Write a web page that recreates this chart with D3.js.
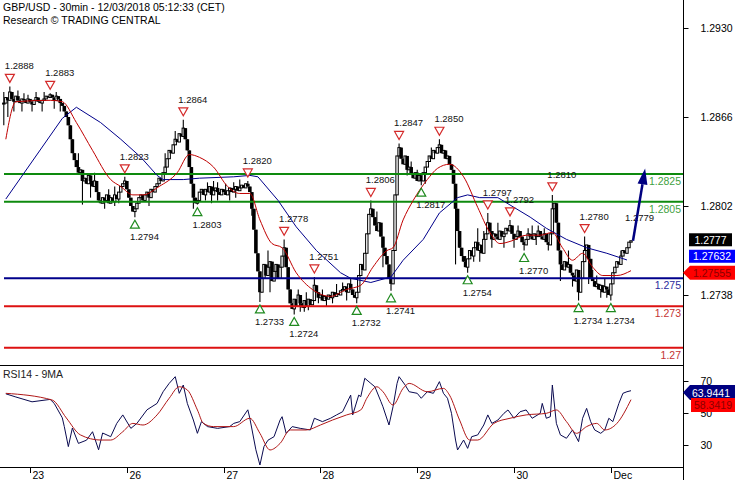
<!DOCTYPE html>
<html><head><meta charset="utf-8">
<script src="https://cdn.jsdelivr.net/npm/d3@7"></script>
<style>body{margin:0;background:#fff}svg{display:block}text{font-family:"Liberation Sans",Arial,sans-serif}</style>
</head><body><svg id="c" width="735" height="480"></svg>
<script>
const title = "GBP/USD - 30min - 12/03/2018 05:12:33 (CET)";
const subtitle = "Research © TRADING CENTRAL";
const rsiTitle = "RSI14 - 9MA";
// 30-min closes, in pips above 1.2700
const closes = [
176,180,178,184,179,177,181,178,176,179,
178,176,179,177,175,178,180,177,176,178,
179,181,180,182,180,178,181,179,176,174,
170,166,160,150,140,135,130,126,128,120,
122,118,124,120,116,120,112,106,104,108,
106,110,104,108,105,110,107,112,116,118,
120,114,108,102,98,100,104,108,110,106,
110,112,108,114,112,116,118,122,120,126,
130,136,142,140,146,150,148,154,152,158,
150,142,130,118,108,104,106,112,114,110,
114,112,116,110,113,115,112,110,114,112,
110,113,115,112,114,116,113,115,117,115,
118,116,112,100,85,68,55,40,50,60,
52,58,62,48,55,60,50,58,66,72,
58,42,32,28,35,30,38,32,29,34,
30,35,31,34,45,40,36,38,34,37,
35,38,36,40,37,39,38,41,42,44,
40,46,42,38,36,40,52,60,56,68,
82,96,100,94,88,84,90,80,72,66,
60,50,46,70,110,138,144,136,132,138,
128,130,125,122,126,120,124,120,126,130,
134,138,136,142,140,144,146,140,142,136,
138,132,128,118,100,84,72,66,62,58,
64,70,66,72,76,70,74,68,78,82,
90,84,78,82,80,78,84,80,82,86,
84,88,82,78,80,84,80,76,74,78,
82,80,78,82,80,84,80,78,82,76,
74,82,100,104,90,70,60,56,62,58,
60,54,52,48,56,40,50,62,70,74,
64,50,48,44,46,42,45,40,44,42,
38,46,54,58,62,60,66,70,68,72,76,77];
// upper / lower wick extremes [bar, pips]
const spikeHi = [[0,184],[3,188],[7,185],[10,183],[12,182],[16,184],[20,184],[23,183],[26,184],[37,140],[45,126],[52,114],[55,116],[60,123],[80,140],[85,156],[89,164],[101,119],[104,120],[106,119],[110,118],[114,119],[117,121],[121,120],[131,70],[139,78],[146,42],[150,40],[154,51],[158,42],[165,46],[168,47],[172,50],[182,106],[185,98],[196,147],[202,134],[205,128],[212,144],[216,150],[229,66],[235,86],[238,84],[240,97],[245,90],[251,92],[255,88],[260,86],[262,88],[265,88],[268,86],[272,110],[280,70],[288,80],[292,56],[294,52],[298,50],[306,70]];
const spikeLo = [[0,160],[2,166],[5,170],[9,170],[14,170],[19,170],[25,172],[28,170],[39,103],[43,108],[50,100],[55,102],[57,104],[65,94],[72,102],[94,100],[96,103],[100,106],[103,104],[106,106],[112,106],[115,108],[123,95],[127,33],[132,40],[144,24],[147,26],[149,26],[151,27],[156,32],[160,30],[163,32],[170,34],[175,32],[188,58],[192,41],[200,124],[207,117],[209,118],[224,60],[230,54],[233,62],[236,62],[242,72],[248,72],[253,72],[258,70],[264,74],[270,70],[276,48],[282,44],[285,34],[290,46],[296,36],[299,36],[301,34]];
const fastMA = [[1,150],[6,177],[23,178],[29,177],[36,162],[44,142],[53,121],[58,116],[64,110],[69,110],[77,116],[86,126],[92,139],[97,137],[104,130],[111,116],[117,111],[122,111],[127,92],[133,75],[138,72],[145,54],[153,42],[162,37],[170,42],[177,45],[183,58],[190,70],[193,72],[198,92],[203,106],[210,121],[215,129],[221,132],[228,123],[235,101],[241,83],[246,75],[252,77],[259,81],[266,81],[272,83],[277,72],[282,63],[287,68],[292,58],[297,52],[304,52],[311,55.5]];
const slowMA = [[1,107],[29,165],[36,173],[48,162],[58,150],[68,137],[76,124],[79,121],[89,121],[97,122],[114,123],[122,124],[126,123],[136,106],[145,87],[155,70],[167,54],[172,50],[182,47],[192,51],[198,63],[208,78],[216,97],[225,108],[230,110],[236,108],[245,108],[253,101],[261,94],[269,86],[279,78],[289,72],[299,68],[309,63.2]];
const highMarks = [[3,188],[23,183],[60,123],[89,164],[121,120],[139,78],[154,51],[182,106],[196,147],[216,150],[240,97],[251,92],[272,110],[288,80]];
const lowMarks = [[65,94],[96,103],[127,33],[144,24],[175,32],[192,41],[207,117],[230,54],[258,70],[285,34],[301,34]];
const lastHighLabel = [310.5,79];
const target = [318,129];
const levels = [[1.2825,"1.2825","#0e8a0e","#3f9f3f"],[1.2805,"1.2805","#0e8a0e","#3f9f3f"],[1.2750,"1.275","#00008b","#2b2b9c"],[1.2730,"1.273","#dd1111","#c43333"],[1.2700,"1.27","#dd1111","#c43333"]];
const priceTicks = [1.2930,1.2866,1.2802,1.2738];
const dayTicks = [[13,"23"],[61,"26"],[109,"27"],[157,"28"],[205,"29"],[253,"30"],[301,"Dec"]];
const rsiTicks = [70,50,30];
const rsi = [[1,62],[6,60],[14,57],[23,58.5],[25,56],[29,47],[30,41.5],[32,29],[34,40.6],[37,31],[41,33],[44,38.3],[47,27],[49,37.5],[53,35.2],[56,43.5],[59,48.8],[63,40.4],[66,43.5],[71,52],[76,56],[79,63.3],[82,68.5],[85,72.7],[87,62.3],[89,67.5],[91,56],[94,45.6],[96,37.3],[98,44.6],[101,41.5],[106,40.4],[112,41.5],[114,43.5],[117,44.6],[121,52],[122,46.7],[125,27],[127,17.5],[129,29],[131,33],[134,35.2],[137,45.6],[138,47.7],[140,37.3],[143,41.5],[147,40.4],[152,39.4],[154,46.7],[158,44.6],[162,46.7],[165,48.8],[168,50.8],[172,61.2],[173,48.8],[176,61.2],[177,60.2],[179,71.7],[182,68.5],[184,66.4],[187,57.1],[188,53.9],[191,42.5],[193,53.9],[195,68.5],[196,72.7],[199,67.5],[201,63.3],[205,62.3],[207,59.2],[210,63.3],[213,62.3],[216,69.6],[218,62.3],[220,59.2],[222,49.8],[224,33.1],[225,26.9],[228,33.1],[230,27.9],[232,35.2],[235,36.3],[238,42.5],[240,48.8],[242,43.5],[245,45.6],[248,49.8],[250,51.9],[253,46.7],[256,50.8],[259,51.9],[262,46.7],[266,49.8],[267,56],[269,46.7],[271,47.7],[272,67.5],[274,43.5],[276,36.3],[279,34.2],[282,39.4],[285,32.1],[287,46.7],[289,52.9],[291,44.6],[293,39.4],[296,37.3],[298,39.4],[300,46.7],[302,44.6],[305,56],[307,62.3],[309,63.3],[311,63.9441]];
const rsiMA = [[1,62.3],[24,58.1],[31,46.9],[38,36.3],[48,33.1],[53,33.1],[59,38.3],[64,43.5],[69,42.5],[76,48.8],[82,59.2],[87,66.4],[91,64.4],[96,51.9],[99,43.5],[104,41.5],[114,41.5],[122,46.7],[127,37.3],[132,26.9],[137,31],[142,39.4],[150,39.4],[157,42.5],[163,45.6],[170,48.8],[177,51.9],[180,59.2],[185,66.4],[188,63.3],[193,55],[198,65.4],[201,68.5],[210,63.3],[218,65.4],[221,61.2],[226,45.6],[231,33.1],[235,33.1],[243,43.5],[251,46.7],[259,48.8],[269,49.8],[274,51.9],[279,44.6],[284,37.3],[289,41.5],[294,43.5],[298,39.4],[304,43.5],[311,58.3419]];
const lastBoxes = [["1.2777","#000","#fff"],["1.27632","#0000ff","#fff"],["1.27555","#ff0000","#8b0000"]];
const rsiBoxes = [["63.9441","#000080","#fff"],["58.3419","#ff0000","#8b0000"]];

const P = v => 1.27 + v / 1e4;
const svg = d3.select("#c");
const W = 683, mainB = 366, rsiB = 467;
const x = d3.scaleLinear().domain([0, 311]).range([3.8, 631]);
const y = d3.scaleLinear().domain([1.2738, 1.2930]).range([295, 28]);
const yr = d3.scaleLinear().domain([30, 70]).range([445, 381]);

const defs = svg.append("defs");
defs.append("clipPath").attr("id","cm").append("rect").attr("x",0).attr("y",0).attr("width",W).attr("height",mainB);
defs.append("clipPath").attr("id","cr").append("rect").attr("x",0).attr("y",mainB).attr("width",W).attr("height",rsiB-mainB);

svg.append("text").attr("x",3).attr("y",11).attr("font-size","10.5px").attr("fill","#000").text(title);
svg.append("text").attr("x",3).attr("y",24).attr("font-size","10.5px").attr("fill","#000").text(subtitle);

const gm = svg.append("g").attr("clip-path","url(#cm)");
const hiMap = new Map(spikeHi), loMap = new Map(spikeLo);
const bars = closes.map((c,i)=>{const o = i ? closes[i-1] : c;
  return {i,o,c,h:Math.max(o,c,hiMap.has(i)?hiMap.get(i):-1e9),l:Math.min(o,c,loMap.has(i)?loMap.get(i):1e9)};});
const cg = gm.append("g");
bars.forEach(b=>{
  const cx = x(b.i);
  cg.append("line").attr("x1",cx).attr("x2",cx).attr("y1",y(P(b.h))).attr("y2",y(P(b.l))).attr("stroke","#000").attr("stroke-width",1.1);
  const top = y(P(Math.max(b.o,b.c))), bot = y(P(Math.min(b.o,b.c)));
  if (b.c < b.o) cg.append("rect").attr("x",cx-1.8).attr("width",3.6).attr("y",top).attr("height",Math.max(1.2,bot-top)).attr("fill","#000");
  else cg.append("rect").attr("x",cx-1.2).attr("width",2.4).attr("y",top).attr("height",Math.max(1,bot-top)).attr("fill","#fff").attr("stroke","#000").attr("stroke-width",1);
});

levels.forEach(([v,lab,c,tc])=>{
  gm.append("line").attr("x1",4).attr("x2",W).attr("y1",y(v)).attr("y2",y(v)).attr("stroke",c).attr("stroke-width",2);
  svg.append("text").attr("x",681).attr("y",y(v)+11).attr("text-anchor","end").attr("font-size","10.5px").attr("fill",tc).text(lab);
});

const lineS = d3.line().x(d=>x(d[0])).y(d=>y(P(d[1])));
const lineF = d3.line().x(d=>x(d[0])).y(d=>y(P(d[1]))).curve(d3.curveMonotoneX);
gm.append("path").attr("d",lineS(slowMA)).attr("fill","none").attr("stroke","#00008b").attr("stroke-width",1);
gm.append("path").attr("d",lineF(fastMA)).attr("fill","none").attr("stroke","#c00000").attr("stroke-width",1);

// markers
const fmt = v => P(v).toFixed(4);
highMarks.forEach(([i,v])=>{
  const cx = x(i), cy = y(P(v));
  gm.append("path").attr("d",`M${cx-4.5},${cy-12}L${cx+4.5},${cy-12}L${cx},${cy-4}Z`).attr("fill","#fff").attr("stroke","#d42a2a").attr("stroke-width",1.2);
  gm.append("text").attr("x",cx-5).attr("y",cy-17).attr("font-size","9.5px").attr("fill","#111").text(fmt(v));
});
lowMarks.forEach(([i,v])=>{
  const cx = x(i), cy = y(P(v));
  gm.append("path").attr("d",`M${cx-4.5},${cy+11}L${cx+4.5},${cy+11}L${cx},${cy+3}Z`).attr("fill","#fff").attr("stroke","#1f8a1f").attr("stroke-width",1.2);
  gm.append("text").attr("x",cx-5).attr("y",cy+23).attr("font-size","9.5px").attr("fill","#111").text(fmt(v));
});
gm.append("text").attr("x",x(lastHighLabel[0])-5).attr("y",y(P(lastHighLabel[1]))-17).attr("font-size","9.5px").attr("fill","#111").text(fmt(lastHighLabel[1]));

// forecast arrow
{
  const x0 = x(311)+2, y0 = y(P(closes[311])), x1 = x(target[0]), y1 = y(P(target[1]));
  const dx = x1-x0, dy = y1-y0, L = Math.hypot(dx,dy), ux = dx/L, uy = dy/L;
  const hl = 16, hw = 5;
  const bx = x1-ux*hl, by = y1-uy*hl;
  gm.append("line").attr("x1",x0).attr("y1",y0).attr("x2",bx).attr("y2",by).attr("stroke","#000080").attr("stroke-width",2.5);
  gm.append("path").attr("d",`M${x1},${y1}L${bx-uy*hw},${by+ux*hw}L${bx+uy*hw},${by-ux*hw}Z`).attr("fill","#000080");
}

// RSI panel
const gr = svg.append("g").attr("clip-path","url(#cr)");
const rl = d3.line().x(d=>x(d[0])).y(d=>yr(d[1]));
gr.append("path").attr("d",rl(rsi)).attr("fill","none").attr("stroke","#0a0a50").attr("stroke-width",1);
gr.append("path").attr("d",rl.curve(d3.curveMonotoneX)(rsiMA)).attr("fill","none").attr("stroke","#b01818").attr("stroke-width",1);
svg.append("text").attr("x",3).attr("y",378).attr("font-size","10.5px").attr("fill","#222").text(rsiTitle);

// frame
svg.append("line").attr("x1",0).attr("x2",W).attr("y1",mainB-0.5).attr("y2",mainB-0.5).attr("stroke","#000");
svg.append("line").attr("x1",0).attr("x2",W).attr("y1",rsiB+0.5).attr("y2",rsiB+0.5).attr("stroke","#000");
svg.append("line").attr("x1",W+0.5).attr("x2",W+0.5).attr("y1",0).attr("y2",480).attr("stroke","#000");

// right axes
const ay = svg.append("g").attr("transform",`translate(${W+0.5},0)`).call(d3.axisRight(y).tickValues(priceTicks).tickFormat(d3.format(".4f")).tickSize(5).tickPadding(12));
ay.select(".domain").remove();
ay.selectAll("text").attr("font-size","10.5px").attr("font-family","Liberation Sans, Arial, sans-serif").attr("fill","#000");
const ar = svg.append("g").attr("transform",`translate(${W+0.5},0)`).call(d3.axisRight(yr).tickValues(rsiTicks).tickSize(5).tickPadding(12));
ar.select(".domain").remove();
ar.selectAll("text").attr("font-size","10.5px").attr("font-family","Liberation Sans, Arial, sans-serif").attr("fill","#000");

// x axis
const xa = svg.append("g").attr("transform",`translate(0,${rsiB})`);
dayTicks.forEach(([i,lab])=>{
  const tx = Math.round(x(i))+0.5;
  xa.append("line").attr("x1",tx).attr("x2",tx).attr("y1",0).attr("y2",6).attr("stroke","#000");
  xa.append("text").attr("x",tx+2).attr("y",12).attr("font-size","10.5px").attr("fill","#000").text(lab);
});

// last value boxes
const by0 = y(P(closes[311]));
lastBoxes.forEach(([t,bg,fg],k)=>{
  const cy = by0 - 1 + k*16.5;
  if (k===2) svg.append("path").attr("d",`M${W},${cy}L${W+7},${cy-7}L735,${cy-7}L735,${cy+7}L${W+7},${cy+7}Z`).attr("fill",bg);
  else svg.append("rect").attr("x",689).attr("y",cy-6.5).attr("width",k===0?43:46).attr("height",13).attr("fill",bg);
  svg.append("text").attr("x",k===0?710.5:712).attr("y",cy+4).attr("text-anchor","middle").attr("font-size","10.5px").attr("fill",fg).text(t);
});
{
  const cy = 392.5;
  svg.append("path").attr("d",`M${W},${cy}L${W+7},${cy-7.5}L735,${cy-7.5}L735,${cy+7.5}L${W+7},${cy+7.5}Z`).attr("fill",rsiBoxes[0][1]);
  svg.append("text").attr("x",711).attr("y",cy+4).attr("text-anchor","middle").attr("font-size","10.5px").attr("fill",rsiBoxes[0][2]).text(rsiBoxes[0][0]);
  const cy2 = 405;
  svg.append("rect").attr("x",691).attr("y",cy2-7).attr("width",44).attr("height",14).attr("fill",rsiBoxes[1][1]);
  svg.append("text").attr("x",713).attr("y",cy2+4).attr("text-anchor","middle").attr("font-size","10.5px").attr("fill",rsiBoxes[1][2]).text(rsiBoxes[1][0]);
}
</script></body></html>
